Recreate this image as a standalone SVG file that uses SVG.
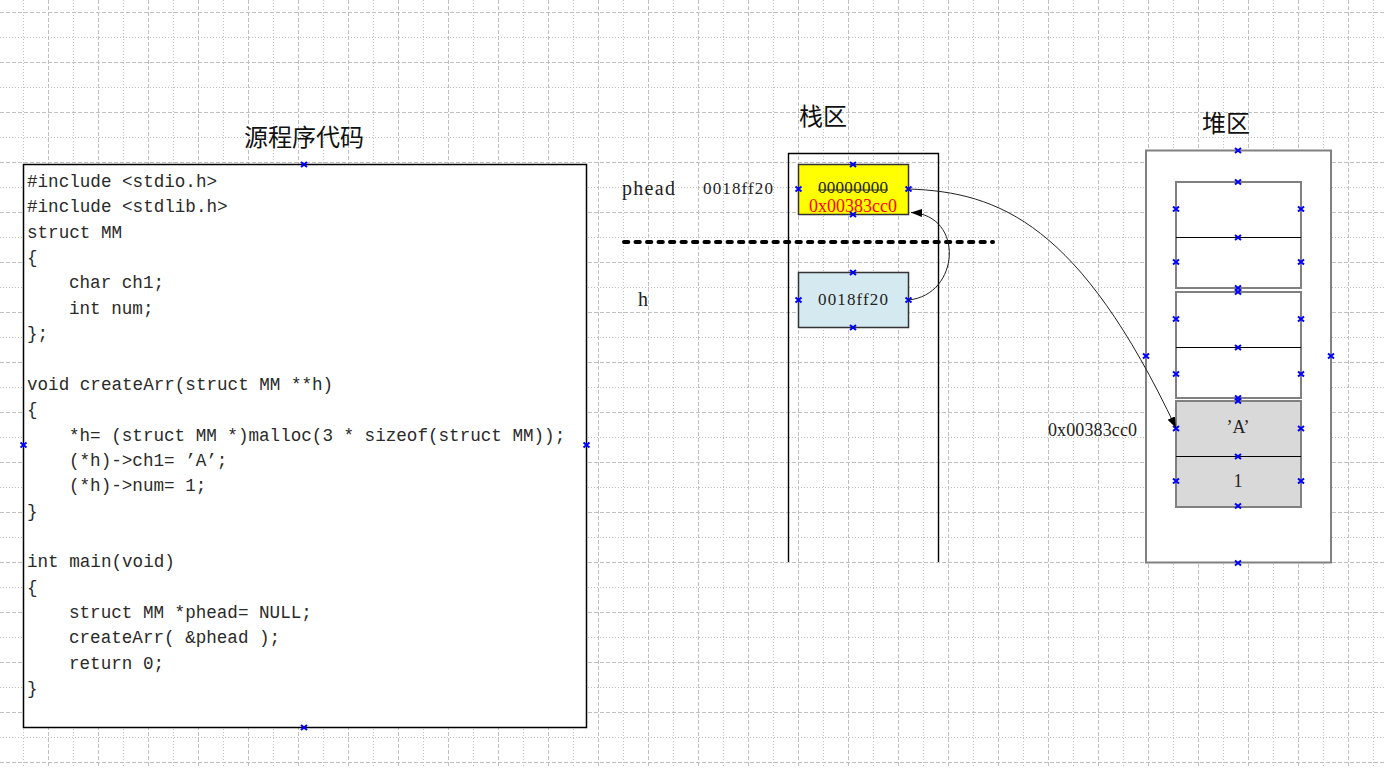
<svg xmlns="http://www.w3.org/2000/svg" width="1384" height="768" viewBox="0 0 1384 768">
<style>
.gd{stroke:#c0c0c0;stroke-width:1;fill:none;stroke-dasharray:4 2}
.gt{stroke:#c0c0c0;stroke-width:1;fill:none;stroke-dasharray:1 2}
.code{font-family:"Liberation Mono",monospace;font-size:17.6px;fill:#2a2a2a}
.ser{font-family:"Liberation Serif",serif;fill:#222}
.cjk{font-family:"Liberation Serif","Noto Sans CJK SC",sans-serif;font-size:24px;fill:#111}
.cell{stroke:#808080;stroke-width:2;fill:#fff}
.mid{stroke:#000;stroke-width:1}
.conn{stroke:#222;stroke-width:1;fill:none}
</style>
<defs>
<path id="x" d="M-3,-2.5 L3,2.5 M-3,2.5 L3,-2.5" stroke="#0000ff" stroke-width="2" fill="none"/>
<marker id="arr" markerUnits="userSpaceOnUse" markerWidth="14" markerHeight="10" refX="11" refY="4" orient="auto">
<path d="M0,0 L11,4 L0,8 z" fill="#000"/>
</marker>
</defs>
<rect width="1384" height="768" fill="#fff"/>
<g id="grid">
<path class="gd" d="M48.5 0V768M98.5 0V768M148.5 0V768M198.5 0V768M248.5 0V768M298.5 0V768M348.5 0V768M398.5 0V768M448.5 0V768M498.5 0V768M548.5 0V768M598.5 0V768M648.5 0V768M698.5 0V768M748.5 0V768M798.5 0V768M848.5 0V768M898.5 0V768M948.5 0V768M998.5 0V768M1048.5 0V768M1098.5 0V768M1148.5 0V768M1198.5 0V768M1248.5 0V768M1298.5 0V768M1348.5 0V768"/>
<path class="gt" d="M23.5 0V768M73.5 0V768M123.5 0V768M173.5 0V768M223.5 0V768M273.5 0V768M323.5 0V768M373.5 0V768M423.5 0V768M473.5 0V768M523.5 0V768M573.5 0V768M623.5 0V768M673.5 0V768M723.5 0V768M773.5 0V768M823.5 0V768M873.5 0V768M923.5 0V768M973.5 0V768M1023.5 0V768M1073.5 0V768M1123.5 0V768M1173.5 0V768M1223.5 0V768M1273.5 0V768M1323.5 0V768M1373.5 0V768"/>
<path class="gd" d="M0 12.5H1384M0 62.5H1384M0 112.5H1384M0 162.5H1384M0 212.5H1384M0 262.5H1384M0 312.5H1384M0 362.5H1384M0 412.5H1384M0 462.5H1384M0 512.5H1384M0 562.5H1384M0 612.5H1384M0 662.5H1384M0 712.5H1384M0 762.5H1384"/>
<path class="gt" d="M0 37.5H1384M0 87.5H1384M0 137.5H1384M0 187.5H1384M0 237.5H1384M0 287.5H1384M0 337.5H1384M0 387.5H1384M0 437.5H1384M0 487.5H1384M0 537.5H1384M0 587.5H1384M0 637.5H1384M0 687.5H1384M0 737.5H1384"/>
</g>

<g id="code-title"><text class="cjk" x="304" y="145.5" text-anchor="middle">源程序代码</text></g>

<g id="code-box">
<rect x="23.5" y="164.5" width="563" height="563" fill="#fff" stroke="#000" stroke-width="1.5"/>
<text class="code" x="27" y="187">#include &lt;stdio.h&gt;</text>
<text class="code" x="27" y="212.35">#include &lt;stdlib.h&gt;</text>
<text class="code" x="27" y="237.7">struct MM</text>
<text class="code" x="27" y="263.05">{</text>
<text class="code" x="69" y="288.4">char ch1;</text>
<text class="code" x="69" y="313.75">int num;</text>
<text class="code" x="27" y="339.1">};</text>
<text class="code" x="27" y="389.8">void createArr(struct MM **h)</text>
<text class="code" x="27" y="415.15">{</text>
<text class="code" x="69" y="440.5">*h= (struct MM *)malloc(3 * sizeof(struct MM));</text>
<text class="code" x="69" y="465.85">(*h)-&gt;ch1= ’A’;</text>
<text class="code" x="69" y="491.2">(*h)-&gt;num= 1;</text>
<text class="code" x="27" y="516.55">}</text>
<text class="code" x="27" y="567.25">int main(void)</text>
<text class="code" x="27" y="592.6">{</text>
<text class="code" x="69" y="617.95">struct MM *phead= NULL;</text>
<text class="code" x="69" y="643.3">createArr( &amp;phead );</text>
<text class="code" x="69" y="668.65">return 0;</text>
<text class="code" x="27" y="694">}</text>
<use href="#x" x="304" y="164.5"/>
<use href="#x" x="23.5" y="445"/>
<use href="#x" x="586.5" y="445"/>
<use href="#x" x="304" y="727.5"/>
</g>

<g id="stack-title"><text class="cjk" x="823" y="125" text-anchor="middle">栈区</text></g>
<g id="stack-column">
<path d="M788.5,562 V153.5 H938.5 V562" fill="none" stroke="#000" stroke-width="1.4"/>
</g>

<g id="divider">
<path d="M624,242 H993" stroke="#000" stroke-width="4" stroke-linecap="round" stroke-dasharray="4.3 7.2" fill="none"/>
</g>

<g id="phead-label">
<text class="ser" x="622" y="194.5" font-size="20" textLength="53">phead</text>
<text class="ser" x="703" y="194" font-size="17" textLength="70">0018ff20</text>
</g>
<g id="h-label"><text class="ser" x="638" y="305.5" font-size="20">h</text></g>

<g id="phead-cell">
<rect x="798.5" y="164.5" width="110" height="50" fill="#ffff00" stroke="#333" stroke-width="1.5"/>
<text class="ser" x="853" y="193" font-size="17" text-anchor="middle" textLength="70" fill="#333">00000000</text>
<path d="M818,190 H888" stroke="#333" stroke-width="1"/>
<text class="ser" x="853" y="211.5" font-size="18" text-anchor="middle" textLength="88" style="fill:#ff0000">0x00383cc0</text>
<use href="#x" x="853" y="164.5"/>
<use href="#x" x="798.5" y="189"/>
<use href="#x" x="908.5" y="189"/>
<use href="#x" x="853" y="214.5"/>
</g>

<g id="h-cell">
<rect x="798.5" y="272.5" width="110" height="55" fill="#d4eaf0" stroke="#333" stroke-width="1.5"/>
<text class="ser" x="853" y="305" font-size="17" text-anchor="middle" textLength="70" fill="#333">0018ff20</text>
<use href="#x" x="853" y="272.5"/>
<use href="#x" x="798.5" y="300"/>
<use href="#x" x="908.5" y="300"/>
<use href="#x" x="853" y="327.5"/>
</g>

<g id="heap-title"><text class="cjk" x="1226" y="132" text-anchor="middle">堆区</text></g>
<g id="heap">
<rect x="1146" y="150.5" width="185" height="412" class="cell"/>
<use href="#x" x="1238" y="150.5"/>
<use href="#x" x="1146" y="356"/>
<use href="#x" x="1331" y="356"/>
<use href="#x" x="1238" y="563"/>
</g>

<g id="heap-block1">
<rect x="1176" y="182" width="125" height="106" class="cell"/>
<path class="mid" d="M1176,237.5 H1301"/>
<use href="#x" x="1238" y="182"/>
<use href="#x" x="1176" y="209"/>
<use href="#x" x="1301" y="209"/>
<use href="#x" x="1238" y="237.5"/>
<use href="#x" x="1176" y="262"/>
<use href="#x" x="1301" y="262"/>
<use href="#x" x="1238" y="288"/>
</g>
<g id="heap-block2">
<rect x="1176" y="292" width="125" height="106" class="cell"/>
<path class="mid" d="M1176,347.5 H1301"/>
<use href="#x" x="1238" y="292"/>
<use href="#x" x="1176" y="319"/>
<use href="#x" x="1301" y="319"/>
<use href="#x" x="1238" y="347.5"/>
<use href="#x" x="1176" y="374"/>
<use href="#x" x="1301" y="374"/>
<use href="#x" x="1238" y="398"/>
</g>
<g id="heap-block3">
<rect x="1176" y="401" width="125" height="106" class="cell" style="fill:#d9d9d9"/>
<path class="mid" d="M1176,456.5 H1301"/>
<text class="ser" x="1238" y="433" font-size="18" text-anchor="middle" fill="#333">’A’</text>
<text class="ser" x="1238" y="487" font-size="18" text-anchor="middle" fill="#333">1</text>
<use href="#x" x="1238" y="401"/>
<use href="#x" x="1176" y="428.5"/>
<use href="#x" x="1301" y="428.5"/>
<use href="#x" x="1238" y="456.5"/>
<use href="#x" x="1176" y="481"/>
<use href="#x" x="1301" y="481"/>
<use href="#x" x="1238" y="506"/>
</g>
<g id="heap-address"><text class="ser" x="1048" y="435.5" font-size="18" textLength="89">0x00383cc0</text></g>

<g id="connectors">
<path class="conn" d="M908.5,189 C1000,192 1080,225 1176,428" marker-end="url(#arr)"/>
<path class="conn" d="M908.5,300 C960,295 965,215 911,212.5" marker-end="url(#arr)"/>
</g>
</svg>
